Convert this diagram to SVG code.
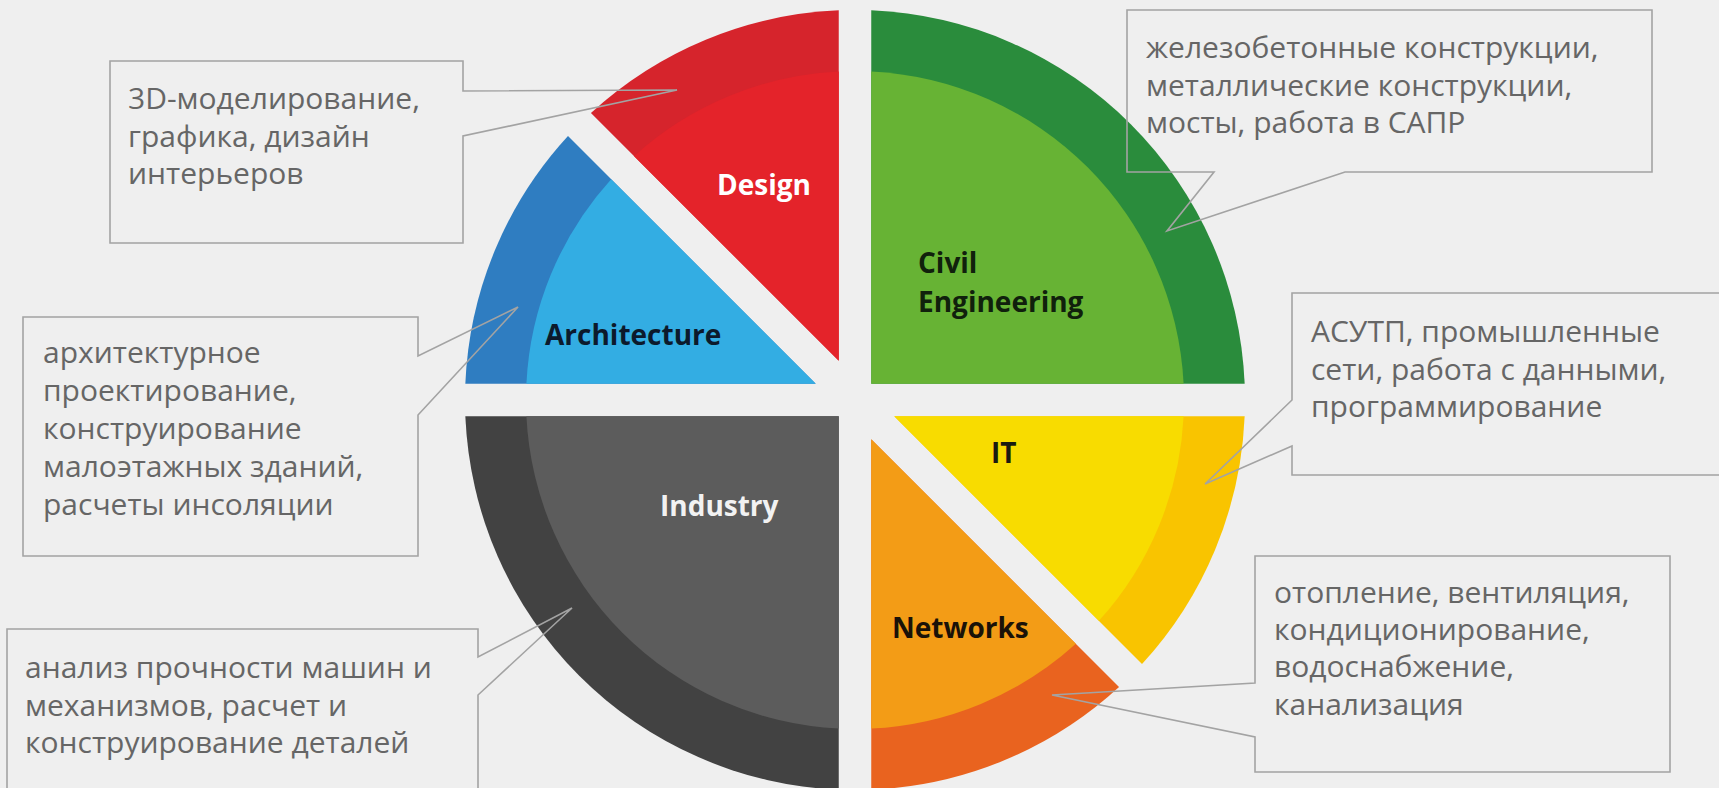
<svg xmlns="http://www.w3.org/2000/svg" width="1719" height="788" viewBox="0 0 1719 788">
<style>
.note{font-family:"Open Sans","Noto Sans","Liberation Sans",sans-serif;font-size:30px;fill:#666666}
.lbl{font-family:"Open Sans","Noto Sans","Liberation Sans",sans-serif;font-size:28px;font-weight:700}
.call{fill:none;stroke:#a3a3a3;stroke-width:1.6}
</style>
<rect x="0" y="0" width="1719" height="788" fill="#efefef"/>
<g id="design">
<path d="M838.75,360.77 L838.75,10.34 A390,390 0 0 0 590.96,112.98 Z" fill="#d6242c"/>
<path d="M838.75,360.77 L838.75,71.4 A329,329 0 0 0 634.13,156.15 Z" fill="#e4232a"/>
<text class="lbl" x="717" y="195" fill="#ffffff">Design</text>
</g>
<g id="architecture">
<path d="M815.77,383.75 L465.34,383.75 A390,390 0 0 1 567.98,135.96 Z" fill="#2f7dc1"/>
<path d="M815.77,383.75 L526.4,383.75 A329,329 0 0 1 611.15,179.13 Z" fill="#33ade3"/>
<text class="lbl" x="545" y="345" fill="#0c1a2c">Architecture</text>
</g>
<g id="civil">
<path d="M871.25,383.75 L871.25,10.34 A390,390 0 0 1 1244.66,383.75 Z" fill="#2a8c3c"/>
<path d="M871.25,383.75 L871.25,71.4 A329,329 0 0 1 1183.6,383.75 Z" fill="#67b334"/>
<text class="lbl" x="918" y="273" fill="#10200c">Civil</text>
<text class="lbl" x="918" y="312" fill="#10200c">Engineering</text>
</g>
<g id="industry">
<path d="M838.75,416.25 L465.34,416.25 A390,390 0 0 0 838.75,789.66 Z" fill="#424242"/>
<path d="M838.75,416.25 L526.4,416.25 A329,329 0 0 0 838.75,728.6 Z" fill="#5c5c5c"/>
<text class="lbl" x="660" y="516" fill="#f2f2f2">Industry</text>
</g>
<g id="it">
<path d="M894.23,416.25 L1244.66,416.25 A390,390 0 0 1 1142.02,664.04 Z" fill="#f9c400"/>
<path d="M894.23,416.25 L1183.6,416.25 A329,329 0 0 1 1098.85,620.87 Z" fill="#f8dc00"/>
<text class="lbl" x="991" y="463" fill="#1a1a10">IT</text>
</g>
<g id="networks">
<path d="M871.25,439.23 L871.25,789.66 A390,390 0 0 0 1119.04,687.02 Z" fill="#e9631f"/>
<path d="M871.25,439.23 L871.25,728.6 A329,329 0 0 0 1075.87,643.85 Z" fill="#f39c16"/>
<text class="lbl" x="892" y="638" fill="#1a1208">Networks</text>
</g>
<g id="connectors">
<path class="call" d="M110,61 H463 V91 L677,90 L463,136 V243 H110 Z"/>
<path class="call" d="M1127,10 H1652 V172 H1345 L1167,231 L1214,172 H1127 Z"/>
<path class="call" d="M23,317 H418 V356 L518,307 L418,415 V556 H23 Z"/>
<path class="call" d="M7,800 V629 H478 V657 L572,608 L478,695 V800"/>
<path class="call" d="M1725,293 H1292 V400 L1205,484 L1292,446 V475 H1725"/>
<path class="call" d="M1255,556 H1670 V772 H1255 V737 L1052,695 L1255,683 Z"/>
</g>
<g id="note-design">
<text class="note" x="128" y="109">3D-моделирование,</text>
<text class="note" x="128" y="147">графика, дизайн</text>
<text class="note" x="128" y="184">интерьеров</text>
</g>
<g id="note-civil">
<text class="note" x="1146" y="58">железобетонные конструкции,</text>
<text class="note" x="1146" y="95.5">металлические конструкции,</text>
<text class="note" x="1146" y="132.5">мосты, работа в САПР</text>
</g>
<g id="note-architecture">
<text class="note" x="43" y="363">архитектурное</text>
<text class="note" x="43" y="401">проектирование,</text>
<text class="note" x="43" y="439">конструирование</text>
<text class="note" x="43" y="477">малоэтажных зданий,</text>
<text class="note" x="43" y="515">расчеты инсоляции</text>
</g>
<g id="note-industry">
<text class="note" x="25" y="678">анализ прочности машин и</text>
<text class="note" x="25" y="716">механизмов, расчет и</text>
<text class="note" x="25" y="753">конструирование деталей</text>
</g>
<g id="note-it">
<text class="note" x="1311" y="342">АСУТП, промышленные</text>
<text class="note" x="1311" y="380">сети, работа с данными,</text>
<text class="note" x="1311" y="417">программирование</text>
</g>
<g id="note-networks">
<text class="note" x="1274" y="603">отопление, вентиляция,</text>
<text class="note" x="1274" y="640">кондиционирование,</text>
<text class="note" x="1274" y="677">водоснабжение,</text>
<text class="note" x="1274" y="715">канализация</text>
</g>
</svg>
